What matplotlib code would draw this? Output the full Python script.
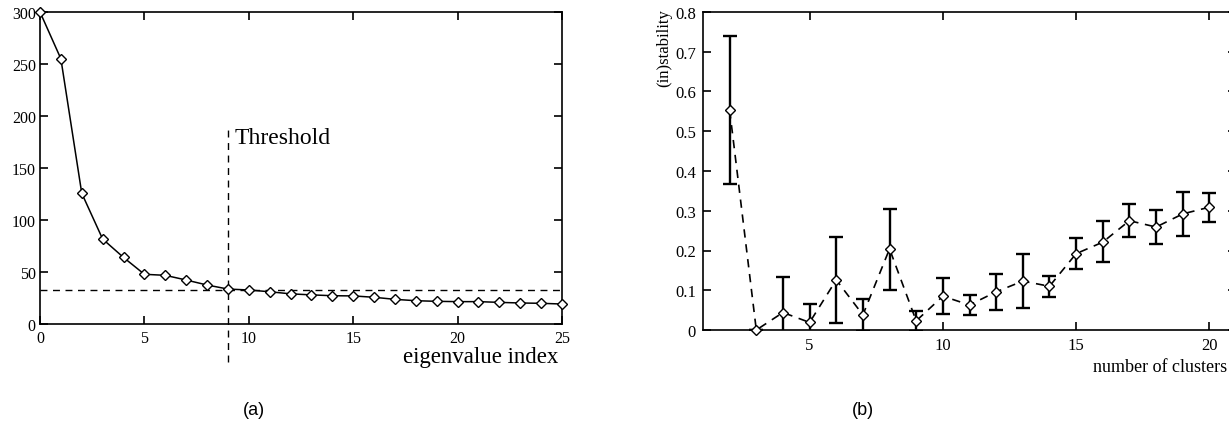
import numpy as np
import matplotlib
matplotlib.use("Agg")
import matplotlib.pyplot as plt

plt.rcParams['font.family'] = ['Liberation Serif', 'DejaVu Serif']

# (a) eigenvalue spectrum
eig_index = list(range(26))
eig_values = [300, 255, 125.7, 81.7, 64, 47.8, 46.8, 42.3, 37.5, 33.6,
              32.7, 31, 29, 28, 27.2, 27, 25.7, 23.7, 22.4, 21.8,
              21.5, 21.5, 20.8, 20.2, 19.9, 19.2]
threshold_index = 9
threshold_value = 33

# (b) (in)stability vs number of clusters
clusters = list(range(2, 21))
instab = [0.553, 0.0, 0.044, 0.019, 0.126, 0.038, 0.204, 0.023, 0.085, 0.063,
          0.096, 0.123, 0.11, 0.192, 0.221, 0.275, 0.259, 0.292, 0.309]
err_hi = [0.74, 0.0, 0.133, 0.065, 0.235, 0.078, 0.304, 0.049, 0.13, 0.088,
          0.142, 0.192, 0.137, 0.231, 0.273, 0.317, 0.303, 0.348, 0.345]
err_lo = [0.367, 0.0, -0.045, -0.027, 0.018, -0.002, 0.101, -0.003, 0.039, 0.038,
          0.050, 0.056, 0.083, 0.153, 0.17, 0.233, 0.216, 0.236, 0.272]

W, H = 1229, 431
fig = plt.figure(figsize=(W / 100, H / 100), dpi=100)

def box(l, t, r, b):
    return [l / W, 1 - b / H, (r - l) / W, (b - t) / H]

# ---- panel (a)
ax1 = fig.add_axes(box(40, 13, 562, 325))
ax1.plot(eig_index, eig_values, color='black', lw=1.1, marker='D', ms=5,
         mfc='white', mec='black', mew=1.0, clip_on=False, zorder=3)
ax1.axhline(threshold_value, color='black', lw=1.0, ls=(0, (5, 4)))
ax1.plot([threshold_index, threshold_index], [-37, 187], color='black', lw=1.0,
         ls=(0, (5, 4)), clip_on=False)
ax1.text(9.3, 179, 'Threshold', fontsize=17, va='center', ha='left')
ax1.set_xlim(0, 25)
ax1.set_ylim(0, 300)
ax1.set_xticks([0, 5, 10, 15, 20, 25])
ax1.set_yticks([0, 50, 100, 150, 200, 250, 300])
ax1.tick_params(direction='in', top=True, right=True, length=6, width=1.2,
                labelsize=11.5, pad=4)
ax1.tick_params(axis='y', pad=3)
for s in ax1.spines.values():
    s.set_linewidth(1.2)
ax1.text(558 / W, 1 - 358 / H, 'eigenvalue index', transform=fig.transFigure,
         ha='right', va='center', fontsize=16.5)

# ---- panel (b)
ax2 = fig.add_axes(box(703, 13, 1236, 331))
yerr = [np.array(instab) - np.array(err_lo), np.array(err_hi) - np.array(instab)]
ax2.errorbar(clusters, instab, yerr=yerr, fmt='none', ecolor='black',
             elinewidth=1.7, capsize=5, capthick=1.7, zorder=2)
ax2.plot(clusters, instab, color='black', lw=1.2, ls=(0, (5, 4)), marker='D',
         ms=5, mfc='white', mec='black', mew=1.0, zorder=3, clip_on=False)
ax2.set_xlim(1, 21)
ax2.set_ylim(0, 0.8)
ax2.set_xticks([5, 10, 15, 20])
ax2.set_yticks(np.arange(0, 0.81, 0.1))
ax2.set_yticklabels(['0', '0.1', '0.2', '0.3', '0.4', '0.5', '0.6', '0.7', '0.8'])
ax2.tick_params(direction='in', top=True, right=True, length=6, width=1.2,
                labelsize=12, pad=5)
for s in ax2.spines.values():
    s.set_linewidth(1.2)
ax2.set_ylabel('(in)stability', fontsize=12)
ax2.yaxis.set_label_coords(-0.058, 0.89)
ax2.text(1093 / W, 1 - 368 / H, 'number of clusters', transform=fig.transFigure,
         ha='left', va='center', fontsize=13)

# panel labels
fig.text(254 / W, 1 - 411 / H, '(a)', ha='center', va='center', fontsize=13,
         family='Liberation Sans')
fig.text(863 / W, 1 - 411 / H, '(b)', ha='center', va='center', fontsize=13,
         family='Liberation Sans')

fig.savefig('out.png', dpi=100)
